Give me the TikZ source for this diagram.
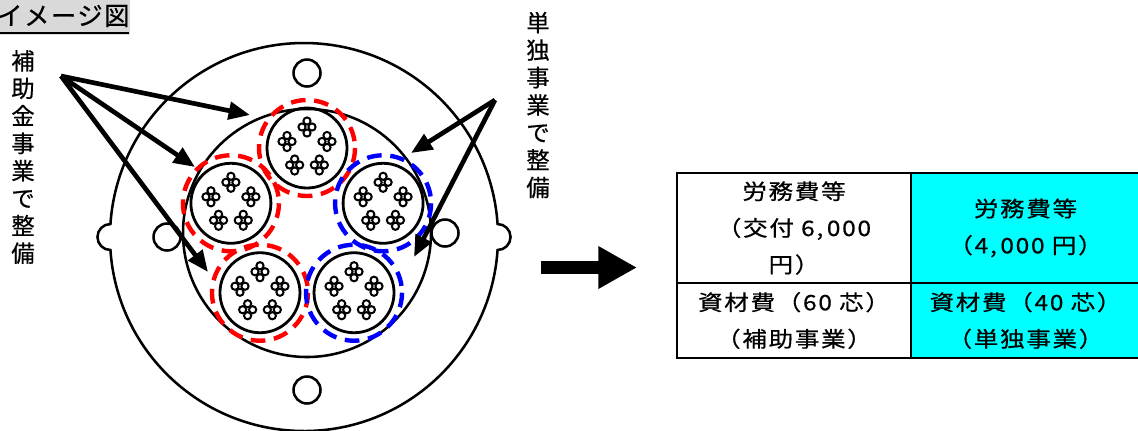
\documentclass[tikz,border=0pt]{standalone}
\usepackage{fontspec}
\newfontfamily\jp[FakeBold=0.6]{Noto Sans CJK JP}
\newfontfamily\jptitle[LetterSpace=6,FakeBold=0.6]{Noto Sans CJK JP}
\newfontfamily\jptab[FakeStretch=1.15,LetterSpace=8,FakeBold=0.6]{Noto Sans CJK JP}
\usepackage{tikz}
\usetikzlibrary{positioning, arrows.meta, calc}
\definecolor{tabcyan}{HTML}{00FFFF}
\definecolor{titlegray}{HTML}{D9D9D9}

\begin{document}
\begin{tikzpicture}[x=0.75pt, y=-0.75pt,
    thin line/.style={line width=1.9pt},
    pointer/.style={line width=3.5pt, -{Triangle[length=16pt,width=13pt]}},
    vlabel/.style={align=center, inner sep=0pt, font=\jp\fontsize{17.5}{20.6}\selectfont},
    cell/.style={draw, line width=1.5pt, outer sep=0pt, inner sep=0pt, align=center,
      minimum height=82.5pt, font=\jptab\fontsize{16}{27.5}\selectfont}]
    \useasboundingbox (0,0) rectangle (1138,430);

    % Title
    \fill[titlegray] (0,0) rectangle (130,35);
    \node[anchor=west, inner sep=0pt, font=\jptitle\fontsize{19}{20}\selectfont] (title) at (-3,16) {イメージ図};
    \draw[line width=1.5pt] (0,32.5) -- (129,32.5);

    % Flange with notches and holes
    \coordinate (O) at (304,237);
    \draw[thin line] ($(O)+(183.84:194)$) arc (183.84:356.16:194)
        arc (270:450:13) arc (3.84:176.16:194) arc (90:270:13) -- cycle;
    \foreach \p in {(307,73),(307,390),(167,237),(445,233)}
      \draw[thin line] \p circle (13.5);

    % Cable and sub-cables
    \coordinate (cab) at (307,233);
    \draw[thin line] (cab) circle (124);
    \foreach \a/\c in {270/red, 198/red, 126/red, 342/blue, 54/blue}{
      \coordinate (sub) at ($(cab)+(0,-5)+(\a:80)$);
      \draw[line width=2.1pt] (sub) circle (40);
      \foreach \b in {270,198,126,342,54}
        \foreach \dx/\dy in {0/-6, -5/0, 5/0, 0/6}
          \draw[line width=1.5pt] ($(sub)+(\b:21)+(\dx,\dy)$) circle (3.6);
      \draw[\c, line width=3.3pt, dash pattern=on 11pt off 6.5pt] (sub) circle (48);
    }

    % Labels
    \node[vlabel] (hojolbl) at (23,157) {補\\助\\金\\事\\業\\で\\整\\備};
    \node[vlabel] (tanlbl) at (538,105) {単\\独\\事\\業\\で\\整\\備};

    % Pointers
    \coordinate (hojo) at (61,76);
    \coordinate (h1) at (250,115);
    \coordinate (h2) at (195,167);
    \coordinate (h3) at (208,272);
    \coordinate (tandoku) at (495,100);
    \coordinate (t1) at (411,153);
    \coordinate (t2) at (414,257);
    \foreach \t in {h1,h2,h3}
      \draw[pointer] (hojo) -- (\t);
    \foreach \t in {t1,t2}
      \draw[pointer] (tandoku) -- (\t);

    % Big arrow
    \coordinate (bigL) at (541,267.5);
    \coordinate (bigR) at (637,267.5);
    \draw[line width=9.75pt, -{Triangle[length=29pt,width=30pt]}] (bigL) -- (bigR);

    % Table
    \node[cell, minimum width=175.5pt] (c11) at (794,228) {労務費等\\（交付 6,\,000\\円）};
    \node[cell, fill=tabcyan, minimum width=171.75pt, right=0pt of c11] (c12) {労務費等\\（4,\,000 円）};
    \node[cell, minimum width=175.5pt, minimum height=56.25pt, below=0pt of c11] (c21) {資材費（60 芯）\\（補助事業）};
    \node[cell, fill=tabcyan, minimum width=171.75pt, minimum height=56.25pt, right=0pt of c21] (c22) {資材費（40 芯）\\（単独事業）};
\end{tikzpicture}
\end{document}
